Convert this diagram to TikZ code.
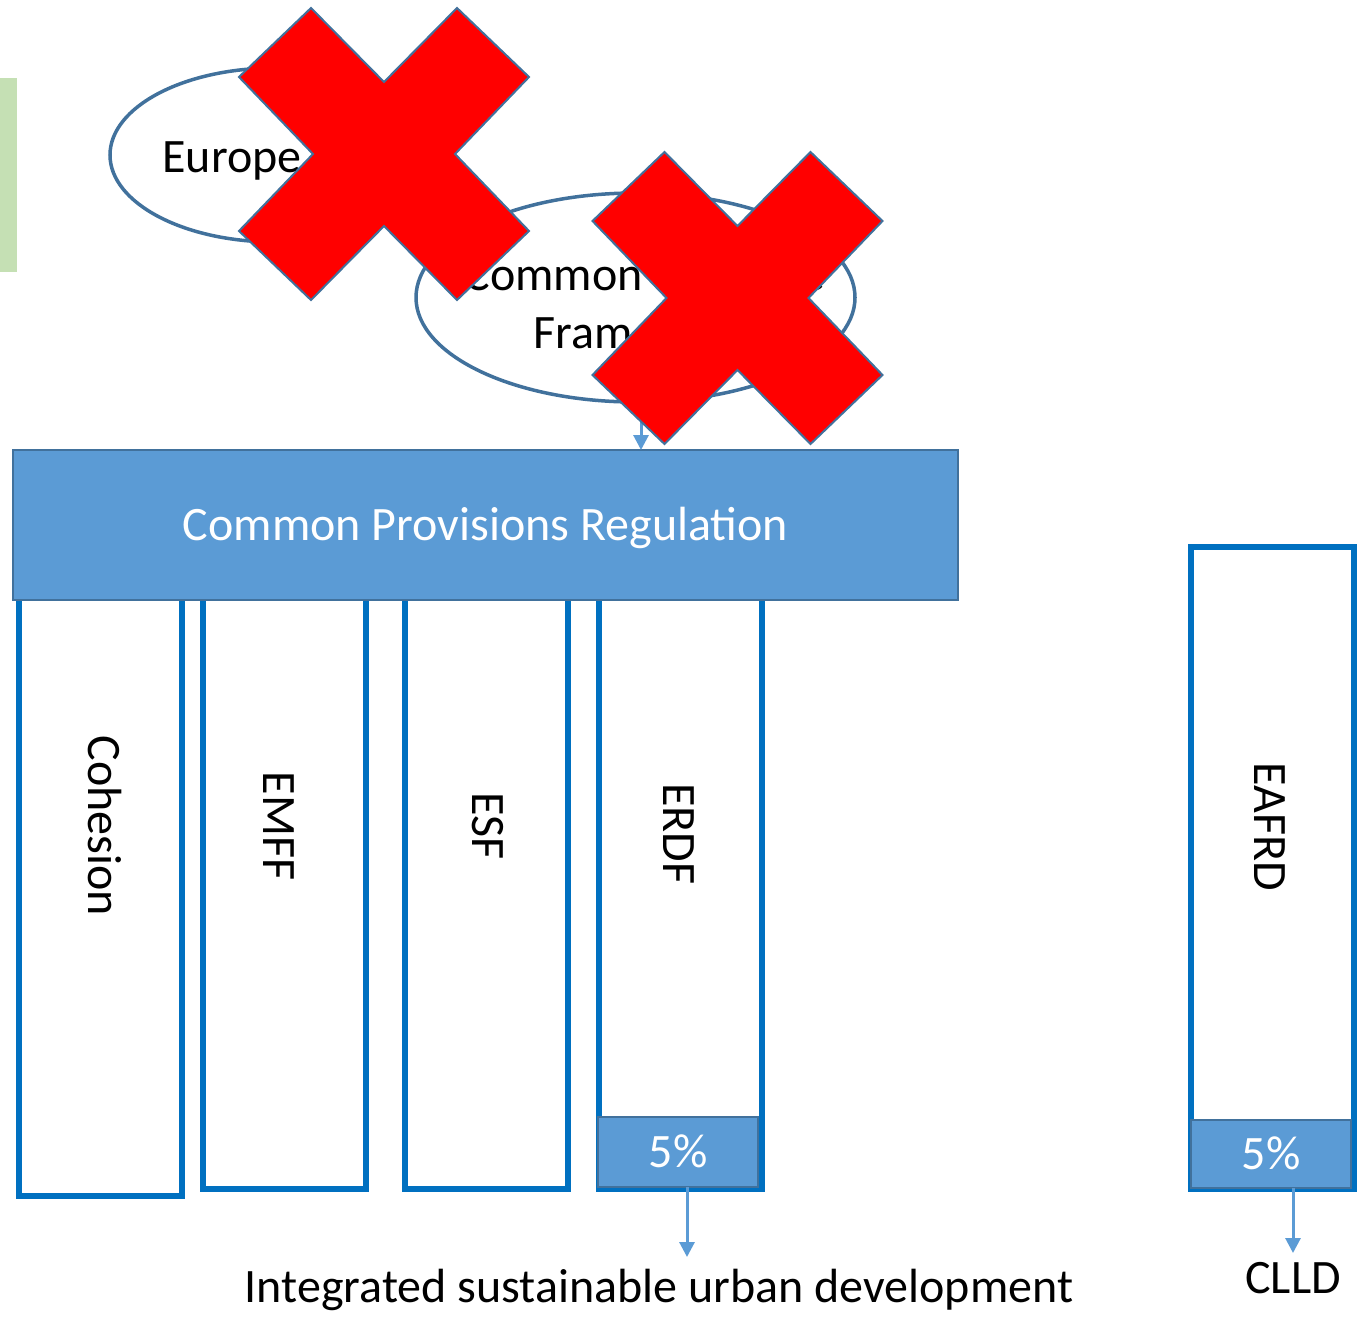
\documentclass[tikz,border=0pt]{standalone}
\usepackage{fontspec}
\setmainfont{Carlito}
\usetikzlibrary{arrows.meta,shapes.geometric}
\definecolor{cprblue}{HTML}{5B9BD5}
\definecolor{edgeblue}{HTML}{41719C}
\definecolor{colblue}{HTML}{0070C0}
\definecolor{greenbar}{HTML}{C5E0B4}
\definecolor{xred}{HTML}{FF0000}
\begin{document}
\begin{tikzpicture}[x=0.5pt,y=-0.5pt,
  every node/.style={font=\fontsize{24}{29}\selectfont, inner sep=0pt, outer sep=0pt},
  oval/.style={ellipse, draw=edgeblue, line width=1.75pt, fill=white},
  xfill/.style={fill=xred, draw=edgeblue, line width=1pt, line join=miter},
  colbox/.style={rectangle, draw=colblue, line width=3pt, fill=white, minimum width=81.5pt},
  bluebox/.style={rectangle, draw=edgeblue, line width=1pt, fill=cprblue, text=white, text height=15.5pt, text depth=0pt},
  arr/.style={draw=cprblue, line width=1.5pt, -{Triangle[width=7.5pt,length=7.5pt]}},
  vlabel/.style={rotate=-90},
  crossmark/.pic={\path[xfill] (-73,-146) -- (0,-72) -- (73,-146) -- (145,-77) -- (71,0) -- (145,77) -- (73,146) -- (0,72) -- (-73,146) -- (-145,77) -- (-71,0) -- (-145,-77) -- cycle;}
]
\useasboundingbox (0,0) rectangle (1359,1318);

% green bar
\node[fill=greenbar, minimum width=8.5pt, minimum height=97pt] (gbar) at (8.5,175) {};

% ellipses
\node[oval, minimum width=165pt, minimum height=87pt] (e1) at (275,155) {};
\node[anchor=base] (e1t) at (286,172) {Europe 2020};
\node[oval, minimum width=219.5pt, minimum height=104.5pt] (e2) at (635.5,297.5) {};
\node[align=center] (e2t) at (644,303) {Common Strategic\\Framework};

% first cross
\pic at (384,154) {crossmark};

% fund columns
\node[colbox, minimum height=303pt] (coh) at (100,893) {};
\node[colbox, minimum height=299.5pt] (emff) at (284.5,889.5) {};
\node[colbox, minimum height=299.5pt] (esf) at (486.5,889.5) {};
\node[colbox, minimum height=299.5pt] (erdf) at (680,889.5) {};
\node[colbox, minimum height=321pt] (eafrd) at (1272.5,868) {};

\node[vlabel] (cohl) at (105,826) {Cohesion};
\node[vlabel] (emffl) at (279,826) {EMFF};
\node[vlabel] (esfl) at (488,826) {ESF};
\node[vlabel] (erdfl) at (679,834) {ERDF};
\node[vlabel] (eafrdl) at (1270,827) {EAFRD};

% CPR
\node[bluebox, minimum width=472.5pt, minimum height=75pt] (cpr) at (485.5,525) {Common Provisions Regulation};

% arrow from CSF to CPR
\draw[arr] ([xshift=2.75pt]e2.south) -- ([xshift=2.75pt]e2.south |- cpr.north);

% second cross
\pic at (737.5,298) {crossmark};

% 5% boxes
\node[bluebox, minimum width=80pt, minimum height=35pt] (p1) at (678,1152) {5\%};
\node[bluebox, minimum width=80pt, minimum height=34pt] (p2) at (1271,1154) {5\%};

\coordinate (a1) at (687,1257);
\coordinate (a2) at (1293,1253);
\draw[arr] (p1.south -| a1) -- (a1);
\draw[arr] (p2.south -| a2) -- (a2);

\node[anchor=base] (isud) at (659,1302) {Integrated sustainable urban development};
\node[anchor=base] (clld) at (1293,1293) {CLLD};
\end{tikzpicture}
\end{document}
